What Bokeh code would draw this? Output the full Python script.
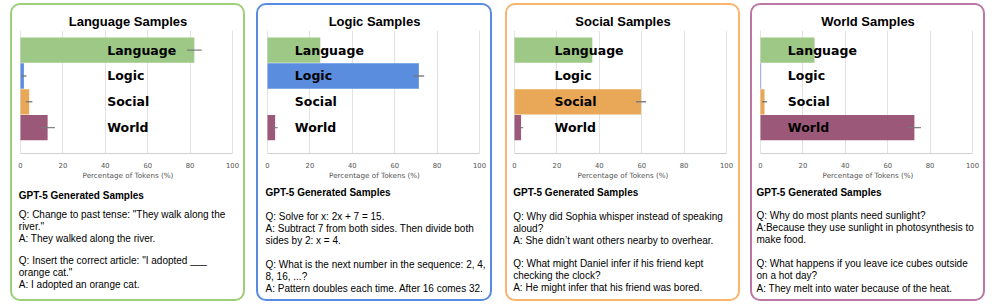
import numpy as np
from bokeh.plotting import figure
from bokeh.layouts import row, column
from bokeh.models import Range1d, FixedTicker, ColumnDataSource
from bokeh.core.properties import value
from bokeh.embed import file_html
from bokeh.resources import INLINE

# ---------------- data ----------------
categories = ["Language", "Logic", "Social", "World"]
panel_titles = ["Language Samples", "Logic Samples", "Social Samples", "World Samples"]

language_samples = [82.0, 1.6, 4.1, 12.8]
language_errors = [3.5, 1.2, 1.5, 3.4]
logic_samples = [24.9, 71.4, 0.0, 3.6]
logic_errors = [0.0, 2.5, 0.0, 1.2]
social_samples = [36.7, 0.0, 59.7, 3.1]
social_errors = [0.0, 0.0, 2.4, 1.0]
world_samples = [25.5, 0.3, 1.9, 72.6]
world_errors = [0.0, 0.0, 1.2, 3.1]

x_ticks = [0, 20, 40, 60, 80, 100]
axis_label = "Percentage of Tokens (%)"
text_header = "GPT-5 Generated Samples"

language_text = [
    ['Q: Change to past tense: "They walk along the', 'river."', 'A: They walked along the river.'],
    ['Q: Insert the correct article: "I adopted ___', 'orange cat."', 'A: I adopted an orange cat.'],
]
logic_text = [
    ['Q: Solve for x: 2x + 7 = 15.', 'A: Subtract 7 from both sides. Then divide both', 'sides by 2: x = 4.'],
    ['Q: What is the next number in the sequence: 2, 4,', '8, 16, ...?', 'A: Pattern doubles each time. After 16 comes 32.'],
]
social_text = [
    ['Q: Why did Sophia whisper instead of speaking', 'aloud?', 'A: She didn\u2019t want others nearby to overhear.'],
    ['Q: What might Daniel infer if his friend kept', 'checking the clock?', 'A: He might infer that his friend was bored.'],
]
world_text = [
    ['Q: Why do most plants need sunlight?', 'A:Because they use sunlight in photosynthesis to', 'make food.'],
    ['Q: What happens if you leave ice cubes outside', 'on a hot day?', 'A: They melt into water because of the heat.'],
]

values_all = [language_samples, logic_samples, social_samples, world_samples]
errors_all = [language_errors, logic_errors, social_errors, world_errors]
texts_all = [language_text, logic_text, social_text, world_text]

# ---------------- styles / layout ----------------
bar_colors = ["#9dc886", "#5b8ddf", "#e8a857", "#9b5878"]
border_colors = ["#9ccf78", "#588cde", "#f9b46e", "#b978a5"]

inner_w = [231, 232, 231, 231]
gap_left = [10, 11, 13, 10]
top_margin = 3

title_h = 25
chart_h = 152
chart_bottom = 28
text_h = 117
plot_w = 212          # pixel width of the 0..100 span
plot_left = [8, 9, 7, 8]  # pixel offset of 0 inside the panel

title_mid = 15.8
text_x = [6.3, 7.0, 5.7, 4.0]
header_mid = [12.5, 9.8, 9.5, 9.5]
first_mid = [31.8, 33.8, 33.5, 32.8]
line_step = [12.0, 12.2, 12.2, 12.3]
block_off = [46.2, 47.7, 47.5, 48.2]
label_x = [40.9, 12.9, 18.9, 12.9]

ypos = [3, 2, 1, 0]  # Language at top ... World at bottom


def blank_fig(w, h):
    f = figure(width=w, height=h, output_backend="svg", toolbar_location=None,
               x_range=Range1d(0, w), y_range=Range1d(h, 0),
               x_axis_location=None, y_axis_location=None, title=None,
               min_border=0, min_border_left=0, min_border_right=0,
               min_border_top=0, min_border_bottom=0)
    f.outline_line_color = None
    f.background_fill_color = None
    f.border_fill_color = None
    f.xgrid.visible = False
    f.ygrid.visible = False
    return f


panels = []
for i in range(4):
    W = inner_w[i]

    # ---- title ----
    pt = blank_fig(W, title_h)
    pt.text(x=[W / 2], y=[title_mid], text=[panel_titles[i]], text_align="center",
            text_baseline="middle", text_font=value("Liberation Sans"),
            text_font_style="bold", text_font_size="13px", text_color="black")

    # ---- chart ----
    px_per = plot_w / 100.0
    xr = Range1d(-plot_left[i] / px_per, (W - plot_left[i]) / px_per)
    p = figure(width=W, height=chart_h, output_backend="svg", toolbar_location=None,
               x_range=xr, y_range=Range1d(-1.0, 3.76),
               y_axis_location=None, title=None,
               min_border=0, min_border_left=0, min_border_right=0,
               min_border_top=0, min_border_bottom=chart_bottom)
    p.outline_line_color = None
    p.background_fill_color = None
    p.border_fill_color = None

    vals = np.array(values_all[i], dtype=float)
    errs = np.array(errors_all[i], dtype=float)
    src = ColumnDataSource(dict(
        y=ypos, v=vals, lo=vals - errs, hi=vals + errs,
        color=bar_colors, cat=categories, lx=[label_x[i]] * 4,
    ))
    p.hbar(y="y", left=0, right="v", height=0.98, fill_color="color",
           line_color=None, source=src)
    p.segment(x0="lo", x1="hi", y0="y", y1="y", line_color="#777777",
              line_width=1.4, line_alpha=0.9, source=src)
    p.text(x="lx", y="y", text="cat", source=src, text_baseline="middle",
           text_align="left", text_font=value("DejaVu Sans"),
           text_font_style="bold", text_font_size="12.5px", text_color="black")

    p.xaxis.ticker = FixedTicker(ticks=x_ticks)
    p.xaxis.bounds = (x_ticks[0], x_ticks[-1])
    p.xaxis.axis_label = axis_label
    p.xaxis.axis_label_text_font = "DejaVu Sans"
    p.xaxis.axis_label_text_font_style = "normal"
    p.xaxis.axis_label_text_font_size = "7.2px"
    p.xaxis.axis_label_text_color = "#555555"
    p.xaxis.axis_label_standoff = 0
    p.xaxis.major_label_text_font = "DejaVu Sans"
    p.xaxis.major_label_text_font_size = "6.8px"
    p.xaxis.major_label_text_color = "#555555"
    p.xaxis.major_label_standoff = 3
    p.xaxis.major_tick_line_color = None
    p.xaxis.minor_tick_line_color = None
    p.xaxis.axis_line_color = "#d0d0d0"
    p.xgrid.grid_line_color = "#e2e2e2"
    p.ygrid.visible = False

    # ---- samples text ----
    ptx = blank_fig(W, text_h)
    ptx.text(x=[text_x[i]], y=[header_mid[i]], text=[text_header],
             text_align="left", text_baseline="middle",
             text_font=value("Liberation Sans"), text_font_style="bold",
             text_font_size="10px", text_color="black")
    lx, ly, lt = [], [], []
    for b, block in enumerate(texts_all[i]):
        for k, line in enumerate(block):
            lx.append(text_x[i])
            ly.append(first_mid[i] + b * block_off[i] + k * line_step[i])
            lt.append(line)
    ptx.text(x=lx, y=ly, text=lt, text_align="left", text_baseline="middle",
             text_font=value("Liberation Sans"), text_font_style="normal",
             text_font_size="10px", text_color="black")

    col = column(pt, p, ptx)
    col.spacing = 0
    col.margin = (top_margin, 0, 0, gap_left[i])
    col.styles = {"border": f"2px solid {border_colors[i]}", "border-radius": "10px",
                  "overflow": "hidden"}
    panels.append(col)

layout = row(*panels)
layout.spacing = 0

open("out.html", "w").write(file_html(layout, INLINE))
